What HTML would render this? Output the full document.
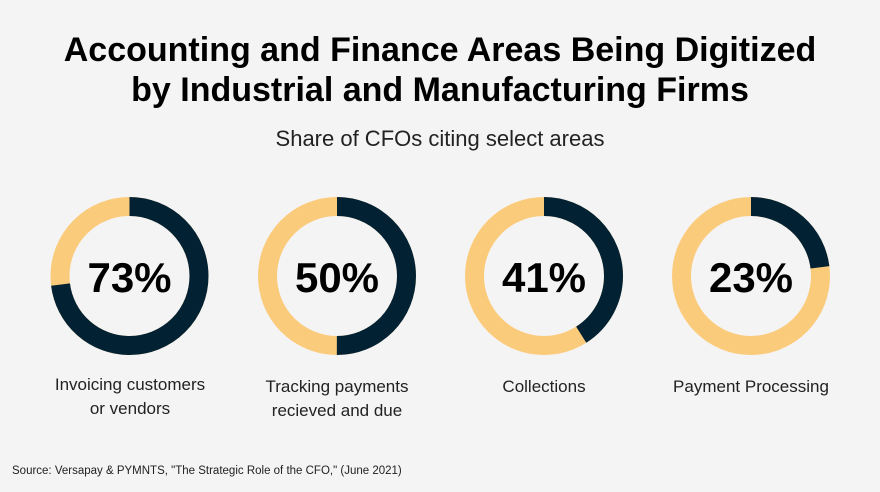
<!DOCTYPE html>
<html><head><style>
html,body{margin:0;padding:0;background:#f4f4f4;}
body{width:880px;height:487px;overflow:hidden;font-family:"Liberation Sans",sans-serif;}
</style></head><body>
<svg width="880" height="487" viewBox="0 0 880 487" xmlns="http://www.w3.org/2000/svg">
<rect width="880" height="487" fill="#f4f4f4"/>
<g font-family="Liberation Sans, sans-serif" text-anchor="middle">
<text x="440" y="61" font-size="34" font-weight="bold" fill="#000">Accounting and Finance Areas Being Digitized</text>
<text x="440" y="101" font-size="34" font-weight="bold" fill="#000">by Industrial and Manufacturing Firms</text>
<text x="440" y="146" font-size="22" fill="#222">Share of CFOs citing select areas</text>
</g>
<g fill="none" stroke-width="19">
<g transform="translate(129.5,276) rotate(-90)">
<circle r="69.5" stroke="#fbcb7c"/>
<circle r="69.5" stroke="#022234" stroke-dasharray="318.8 500"/>
</g>
<g transform="translate(337,276) rotate(-90)">
<circle r="69.5" stroke="#fbcb7c"/>
<circle r="69.5" stroke="#022234" stroke-dasharray="218.4 500"/>
</g>
<g transform="translate(544,276) rotate(-90)">
<circle r="69.5" stroke="#fbcb7c"/>
<circle r="69.5" stroke="#022234" stroke-dasharray="179 500"/>
</g>
<g transform="translate(751,276) rotate(-90)">
<circle r="69.5" stroke="#fbcb7c"/>
<circle r="69.5" stroke="#022234" stroke-dasharray="100.4 500"/>
</g>
</g>
<g font-family="Liberation Sans, sans-serif" text-anchor="middle" font-size="42" font-weight="bold" fill="#000">
<text x="129.5" y="292">73%</text>
<text x="337" y="292">50%</text>
<text x="544" y="292">41%</text>
<text x="751" y="292">23%</text>
</g>
<g font-family="Liberation Sans, sans-serif" text-anchor="middle" font-size="17" fill="#222">
<text x="130" y="390">Invoicing customers</text>
<text x="130" y="414">or vendors</text>
<text x="337" y="392">Tracking payments</text>
<text x="337" y="416">recieved and due</text>
<text x="544" y="392">Collections</text>
<text x="751" y="392">Payment Processing</text>
</g>
<text x="12" y="474" font-family="Liberation Sans, sans-serif" font-size="11.5" fill="#222">Source: Versapay &amp; PYMNTS, "The Strategic Role of the CFO," (June 2021)</text>
</svg>
</body></html>
